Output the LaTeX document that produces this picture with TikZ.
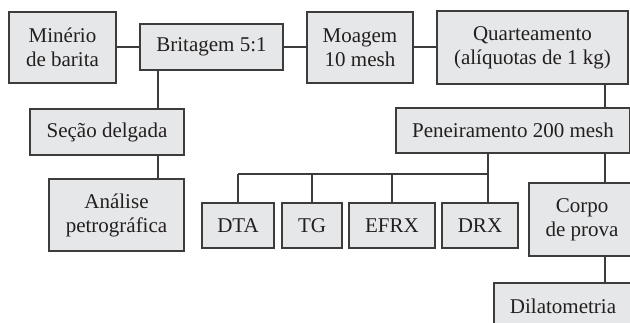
\documentclass[tikz,border=0pt]{standalone}
\usepackage{fontspec}
\setmainfont{Liberation Serif}
\definecolor{boxfill}{HTML}{E6E7E8}
\definecolor{boxline}{HTML}{3C3C3C}
\definecolor{txt}{HTML}{231F20}
\begin{document}
\begin{tikzpicture}[x=1pt,y=-1pt,
  box/.style={draw=boxline, fill=boxfill, line width=1.1pt, inner sep=0pt, align=center,
    text=txt, font=\fontsize{21}{24}\selectfont},
  link/.style={draw=boxline, line width=1.1pt}]
\useasboundingbox (0,0) rectangle (630,322);
\node[box, minimum width=107, minimum height=71] (min) at (62.5,47.5) {Minério\\de barita};
\node[box, minimum width=143, minimum height=46] (brit) at (211.5,47) {Britagem 5:1};
\node[box, minimum width=106, minimum height=71] (moag) at (360,47.5) {Moagem\\10 mesh};
\node[box, minimum width=191, minimum height=73] (quart) at (532.5,47.5) {Quarteamento\\(alíquotas de 1 kg)};
\node[box, minimum width=154, minimum height=46] (sec) at (107,132) {Seção delgada};
\node[box, minimum width=135, minimum height=72] (anal) at (116.5,215) {Análise\\petrográfica};
\node[box, minimum width=234, minimum height=45] (pene) at (513,130.5) {Peneiramento 200 mesh};
\node[box, minimum width=72, minimum height=45] (dta) at (238,225.5) {DTA};
\node[box, minimum width=60, minimum height=45] (tg) at (312,225.5) {TG};
\node[box, minimum width=86, minimum height=45] (efrx) at (392,225.5) {EFRX};
\node[box, minimum width=76, minimum height=45] (drx) at (480,225.5) {DRX};
\node[box, minimum width=106, minimum height=73] (corpo) at (582,219.5) {Corpo\\de prova};
\node[box, minimum width=138, minimum height=46] (dil) at (563,306) {Dilatometria};
\coordinate (ja) at (158,0);
\coordinate (jb) at (605,0);
\coordinate (jc) at (488,0);
\coordinate (bus) at (0,174);
\draw[link] (min.east |- brit.west) -- (brit.west);
\draw[link] (brit.east) -- (moag.west |- brit.east);
\draw[link] (moag.east |- brit.east) -- (quart.west |- brit.east);
\draw[link] (brit.south -| ja) -- (sec.north -| ja);
\draw[link] (sec.south -| ja) -- (anal.north -| ja);
\draw[link] (quart.south -| jb) -- (pene.north -| jb);
\draw[link] (pene.south -| jb) -- (corpo.north -| jb);
\draw[link] (corpo.south -| jb) -- (dil.north -| jb);
\draw[link] (pene.south -| jc) -- (drx.north -| jc);
\draw[link] (dta.north |- bus) -- (bus -| jc);
\draw[link] (dta.north |- bus) -- (dta.north);
\draw[link] (tg.north |- bus) -- (tg.north);
\draw[link] (efrx.north |- bus) -- (efrx.north);
\end{tikzpicture}
\end{document}
